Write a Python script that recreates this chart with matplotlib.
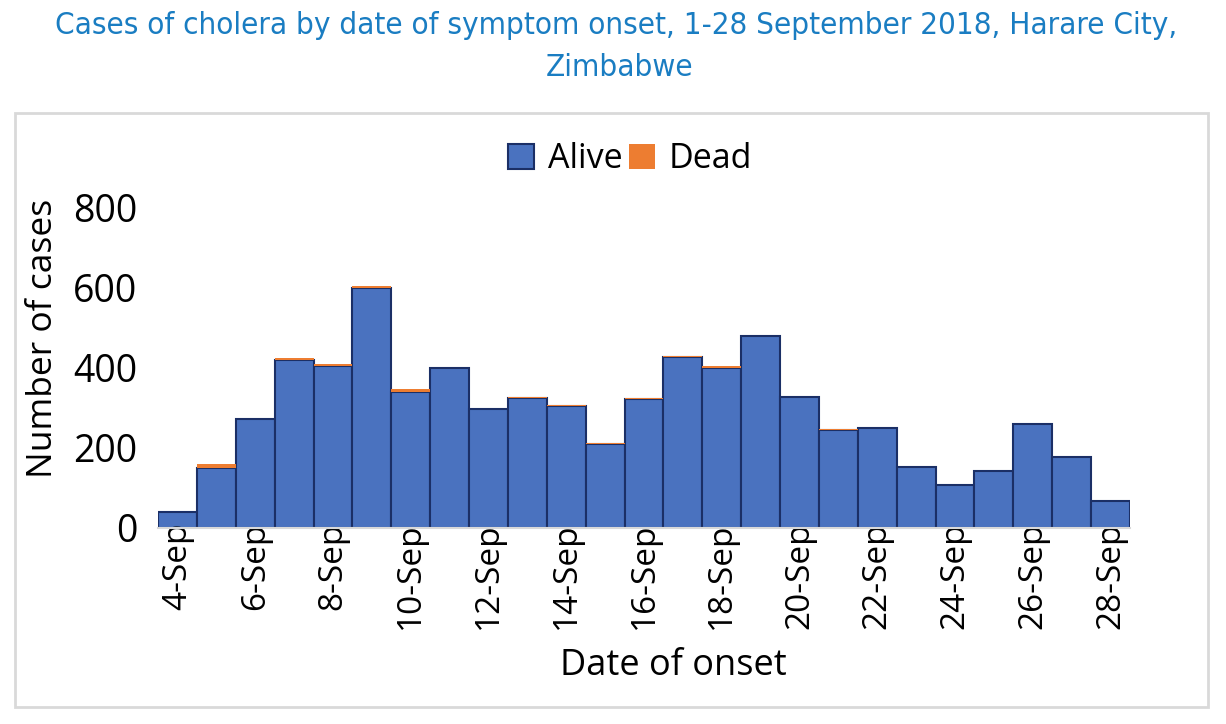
import matplotlib.pyplot as plt
from matplotlib.patches import Rectangle

# cases per day of symptom onset, 4-28 September 2018
days = list(range(4, 29))
alive = [40, 150, 272, 418, 403, 597, 338, 398, 296, 324, 305, 210, 322,
         427, 400, 478, 327, 243, 248, 152, 107, 142, 259, 177, 67]
dead = [0, 9, 0, 6, 6, 6, 8, 2, 0, 3, 1, 1, 3,
        2, 4, 0, 0, 3, 0, 0, 0, 0, 0, 0, 0]
labels = [f'{d}-Sep' for d in days]
yticks = [0, 200, 400, 600, 800]

BLUE = '#4a72bf'
EDGE = '#1b2f66'
ORANGE = '#ed7d31'
TITLE = '#1a7dc2'

plt.rcParams['font.family'] = ['Open Sans', 'DejaVu Sans']

fig = plt.figure(figsize=(12.26, 7.24), dpi=100)
W, H = 1226, 724

# light grey chart frame
fig.patches.append(Rectangle((15 / W, 1 - 707 / H), 1193 / W, 594 / H,
                             transform=fig.transFigure, fill=False,
                             edgecolor='#d9d9d9', linewidth=2))

title_font = dict(family='DejaVu Sans', stretch='condensed', fontsize=22.5,
                  color=TITLE, ha='center', va='center')
fig.text(616 / W, 1 - 25 / H,
         'Cases of cholera by date of symptom onset, 1-28 September 2018, Harare City,',
         **title_font)
fig.text(620 / W, 1 - 67 / H, 'Zimbabwe', **title_font)

ax = fig.add_axes([158 / W, 1 - 528 / H, 972 / W, 321 / H])
x = list(range(len(days)))
ax.bar(x, alive, width=1.0, color=BLUE, edgecolor=EDGE, linewidth=1.5,
       label='Alive')
ax.bar(x, dead, width=1.0, bottom=alive, color=ORANGE, linewidth=0,
       label='Dead')

ax.set_xlim(-0.5, len(days) - 0.5)
ax.set_ylim(0, 800)
ax.set_yticks(yticks)
ax.set_yticklabels([str(v) for v in yticks], fontsize=27)
ax.set_xticks(x[::2])
ax.set_xticklabels(labels[::2], rotation=90, fontsize=24)
ax.tick_params(length=0)
ax.tick_params(axis='x', pad=-4)
ax.tick_params(axis='y', pad=15)

for s in ['top', 'right', 'left']:
    ax.spines[s].set_visible(False)
ax.spines['bottom'].set_color('#d9d9d9')
ax.spines['bottom'].set_linewidth(1.5)

ax.set_ylabel('Number of cases', fontsize=25.5)
ax.yaxis.set_label_coords(-0.101, 0.59)
ax.set_xlabel('Date of onset', fontsize=26)
ax.xaxis.set_label_coords(0.53, -0.373)

ax.legend(loc='center', bbox_to_anchor=(630 / W, 1 - 159 / H),
          bbox_transform=fig.transFigure, ncol=2, frameon=False,
          fontsize=24.5, handlelength=0.75, handleheight=0.75,
          handletextpad=0.4, columnspacing=0.2)

fig.savefig('out.png', dpi=100)
